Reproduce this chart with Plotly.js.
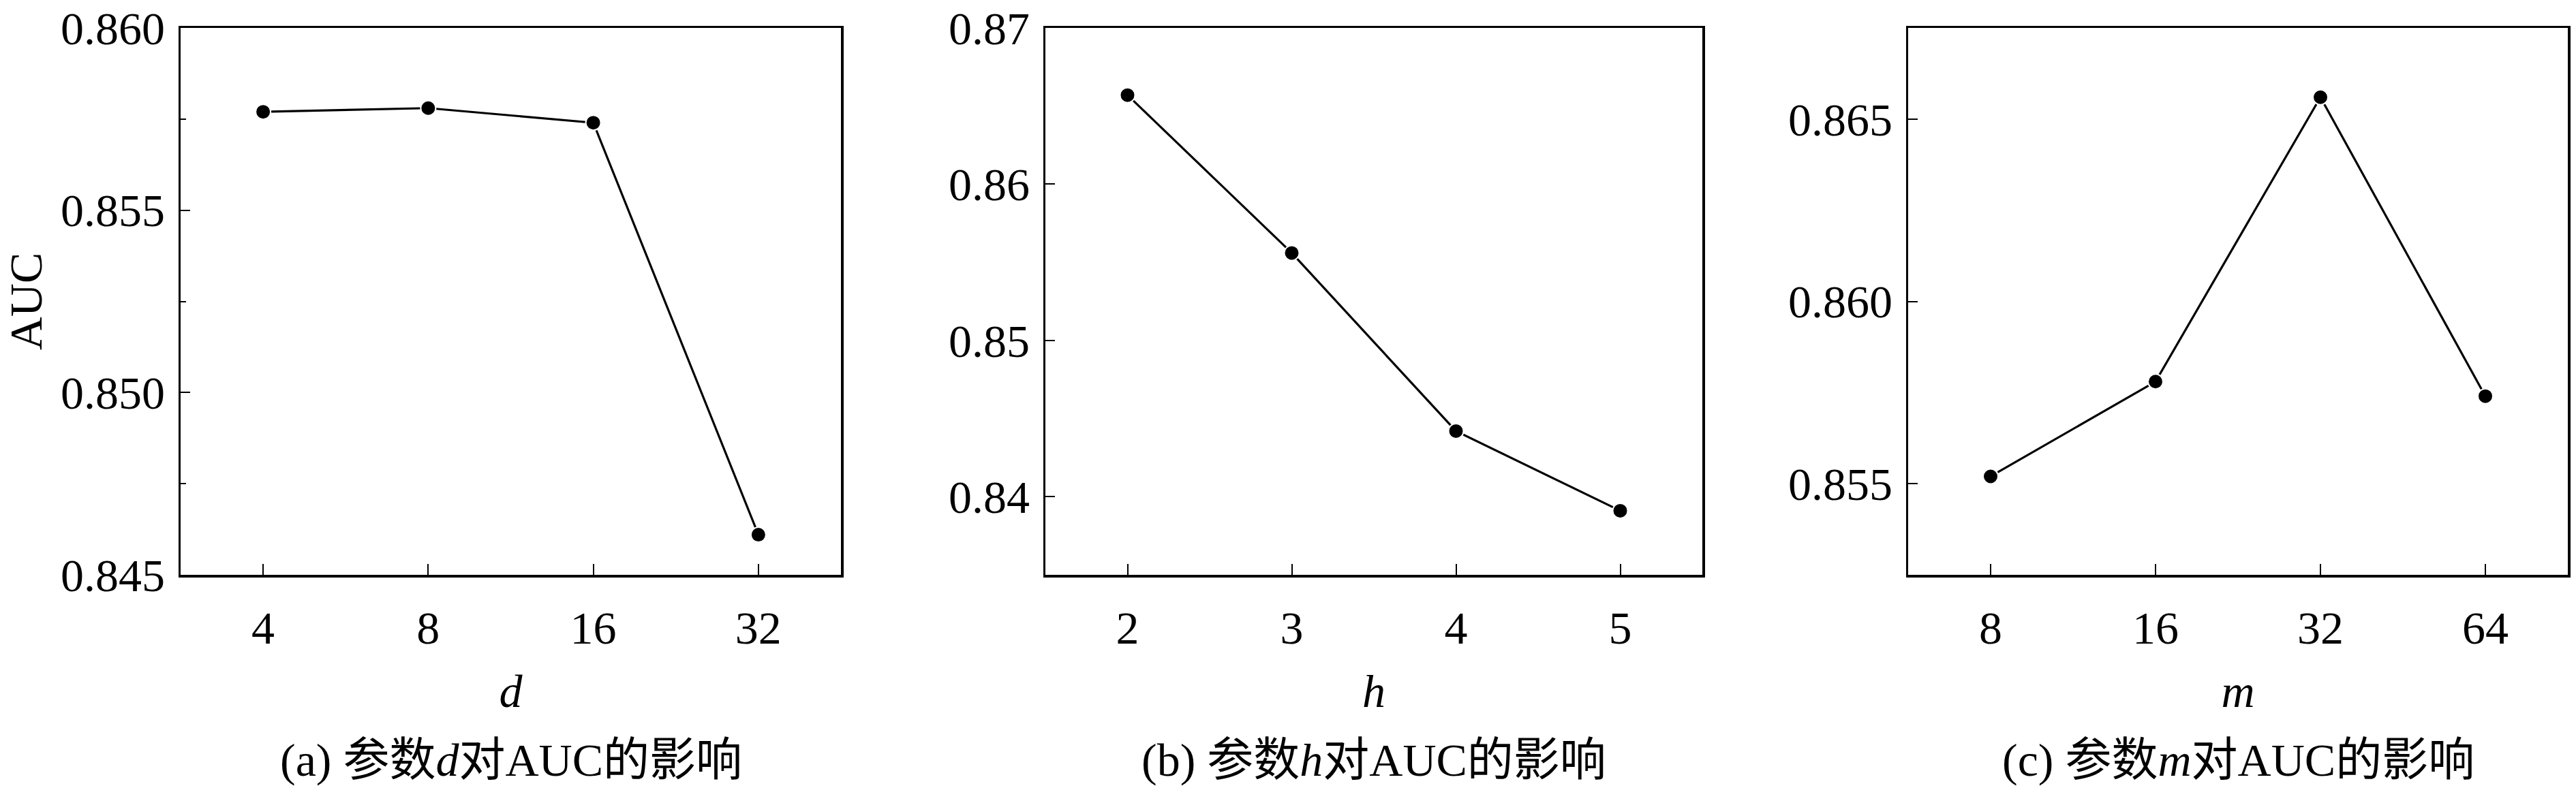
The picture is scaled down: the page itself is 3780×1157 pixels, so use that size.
<!DOCTYPE html>
<html>
<head>
<meta charset="utf-8">
<script src="https://cdn.plot.ly/plotly-3.0.1.min.js"></script>
<style>
html,body{margin:0;padding:0;background:#fff;}
#chart{width:3780px;height:1157px;}
</style>
</head>
<body>
<div id="chart"></div>
<script>
// Panel (a): parameter d
const dLabels = ['4', '8', '16', '32'];
const aucD = [0.8577, 0.8578, 0.8574, 0.8461];
// Panel (b): parameter h
const hLabels = ['2', '3', '4', '5'];
const aucH = [0.8657, 0.8556, 0.8442, 0.8391];
// Panel (c): parameter m
const mLabels = ['8', '16', '32', '64'];
const aucM = [0.8552, 0.8578, 0.8656, 0.8574];

const yTicksA = [0.845, 0.850, 0.855, 0.860];
const yTicksB = [0.84, 0.85, 0.86, 0.87];
const yTicksC = [0.855, 0.860, 0.865];

const captions = ['(a) 参数<i>d</i>对AUC的影响', '(b) 参数<i>h</i>对AUC的影响', '(c) 参数<i>m</i>对AUC的影响'];
const xTitles = ['<i>d</i>', '<i>h</i>', '<i>m</i>'];

const SERIF = '"Liberation Serif", "Noto Sans CJK SC", serif';
const FS = 68;

function trace(x, y, xa, ya) {
  return {
    x: x, y: y, xaxis: xa, yaxis: ya, type: 'scatter', mode: 'lines+markers',
    line: {color: '#000', width: 3.2},
    marker: {color: '#000', size: 22, line: {color: '#fff', width: 2}},
    showlegend: false, cliponaxis: false
  };
}

const data = [
  trace(dLabels, aucD, 'x', 'y'),
  trace(hLabels, aucH, 'x2', 'y2'),
  trace(mLabels, aucM, 'x3', 'y3')
];

const doms = [[265/3780, 1234/3780], [1534/3780, 2498/3780], [2800/3780, 3768/3780]];

function xaxis(dom, title) {
  return {
    domain: dom, type: 'category', range: [-0.5, 3.5],
    showline: true, mirror: true, linecolor: '#000', linewidth: 3.5,
    ticks: 'inside', ticklen: 16, tickwidth: 2, tickcolor: '#000',
    showgrid: false, zeroline: false,
    tickfont: {family: SERIF, size: FS, color: '#000'},
    ticklabelstandoff: 16,
    title: {text: title, font: {family: SERIF, size: FS, color: '#000'}, standoff: 32},
    fixedrange: true
  };
}
function yaxis(anchor, range, tickvals, fmt, extra) {
  const o = {
    anchor: anchor, domain: [0, 1], range: range, tickvals: tickvals, tickformat: fmt,
    showline: true, mirror: true, linecolor: '#000', linewidth: 3.5,
    ticks: 'inside', ticklen: 14, tickwidth: 2, tickcolor: '#000',
    showgrid: false, zeroline: false,
    tickfont: {family: SERIF, size: FS, color: '#000'},
    ticklabelstandoff: 6,
    fixedrange: true
  };
  return Object.assign(o, extra || {});
}

const layout = {
  width: 3780, height: 1157,
  margin: {l: 0, r: 0, t: 41, b: 313},
  paper_bgcolor: '#fff', plot_bgcolor: '#fff',
  font: {family: SERIF, color: '#000'},
  xaxis: Object.assign(xaxis(doms[0], xTitles[0]), {anchor: 'y'}),
  xaxis2: Object.assign(xaxis(doms[1], xTitles[1]), {anchor: 'y2'}),
  xaxis3: Object.assign(xaxis(doms[2], xTitles[2]), {anchor: 'y3'}),
  yaxis: yaxis('x', [0.845, 0.860], yTicksA, '.3f', {
    minor: {ticks: 'inside', ticklen: 8, tickwidth: 2, tickcolor: '#000', dtick: 0.0025, tick0: 0.845, showgrid: false},
    title: {text: 'AUC', font: {family: SERIF, size: FS, color: '#000'}, standoff: 24}
  }),
  yaxis2: yaxis('x2', [0.835, 0.870], yTicksB, '.2f'),
  yaxis3: yaxis('x3', [0.8525, 0.8675], yTicksC, '.3f'),
  annotations: captions.map((t, i) => ({
    text: t, xref: 'paper', yref: 'paper',
    x: (doms[i][0] + doms[i][1]) / 2, y: -(1116 - 844) / (844 - 41),
    xanchor: 'center', yanchor: 'middle', showarrow: false,
    font: {family: SERIF, size: FS, color: '#000'}
  }))
};

Plotly.newPlot('chart', data, layout, {staticPlot: true, displayModeBar: false});
</script>
</body>
</html>
